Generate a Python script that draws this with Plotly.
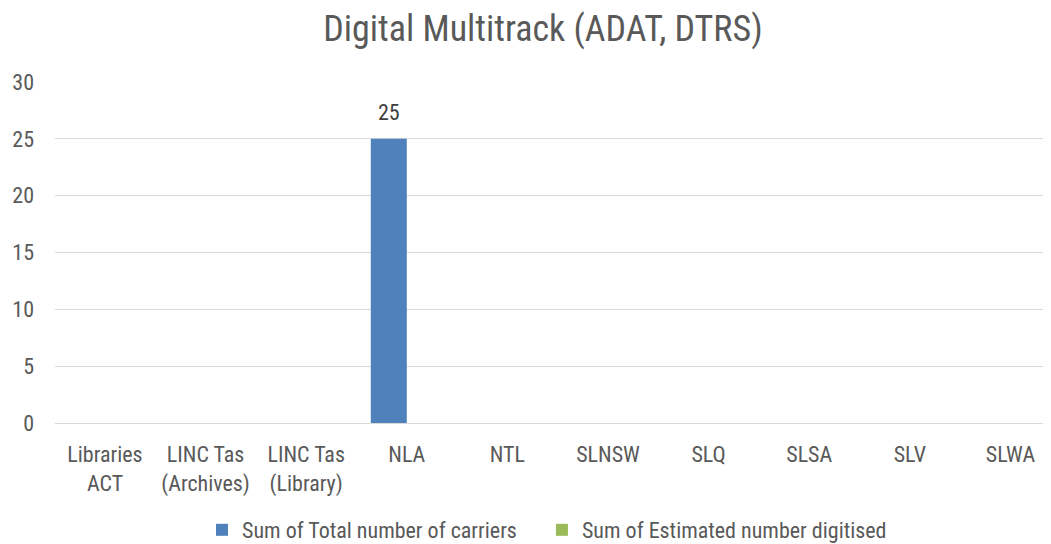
import plotly.graph_objects as go

categories = ["Libraries<br>ACT", "LINC Tas<br>(Archives)", "LINC Tas<br>(Library)", "NLA", "NTL",
              "SLNSW", "SLQ", "SLSA", "SLV", "SLWA"]
total_carriers = [None, None, None, 25, None, None, None, None, None, None]
est_digitised = [None, None, None, 0, None, None, None, None, None, None]
title_text = "Digital Multitrack (ADAT, DTRS)"
series_names = ["Sum of Total number of carriers", "Sum of Estimated number digitised"]
y_ticks = [0, 5, 10, 15, 20, 25, 30]

FONT = "Liberation Sans Narrow, Arial Narrow, Roboto Condensed, Liberation Sans, Arial, sans-serif"
TXT = "#595959"

fig = go.Figure()
fig.add_trace(go.Bar(
    x=categories, y=total_carriers, name=series_names[0],
    marker=dict(color="#4F81BD", line=dict(width=0)), legend="legend",
))
fig.add_trace(go.Bar(
    x=categories, y=est_digitised, name=series_names[1],
    marker=dict(color="#9BBB59", line=dict(width=0)), legend="legend2",
))

for cat, v in zip(categories, total_carriers):
    if v:
        fig.add_annotation(x=cat, y=v, text=str(v), showarrow=False, xshift=-18, yshift=26,
                           font=dict(family=FONT, size=22, color="#404040"))

legend_common = dict(orientation="h", xanchor="left", yanchor="middle",
                     y=-0.3138, font=dict(family=FONT, size=22, color=TXT), itemwidth=30,
                     bgcolor="rgba(0,0,0,0)")

fig.update_layout(
    width=1051, height=544,
    paper_bgcolor="white", plot_bgcolor="white",
    margin=dict(l=47, r=0, t=74, b=129, autoexpand=False),
    barmode="group", bargap=0.284, bargroupgap=0,
    font=dict(family=FONT, color=TXT, size=22),
    title=dict(text=title_text, x=0.509, xanchor="center", y=1 - 20 / 544, yanchor="middle",
               font=dict(family=FONT, size=36, color=TXT)),
    showlegend=True,
    legend=dict(x=0.1464, **legend_common),
    legend2=dict(x=0.485, **legend_common),
    xaxis=dict(type="category", range=[-0.497, 9.483], showgrid=False, showline=False,
               automargin=False, ticklabelstandoff=16,
               ticks="", tickfont=dict(family=FONT, size=22, color=TXT), fixedrange=True),
    yaxis=dict(range=[0, 30], tickvals=y_ticks, showgrid=True, gridcolor="#D9D9D9", gridwidth=1,
               zeroline=True, zerolinecolor="#D9D9D9", zerolinewidth=1, showline=False,
               automargin=False,
               ticks="", ticklabelstandoff=20, tickfont=dict(family=FONT, size=22, color=TXT)),
)

fig.write_html("out.html")
